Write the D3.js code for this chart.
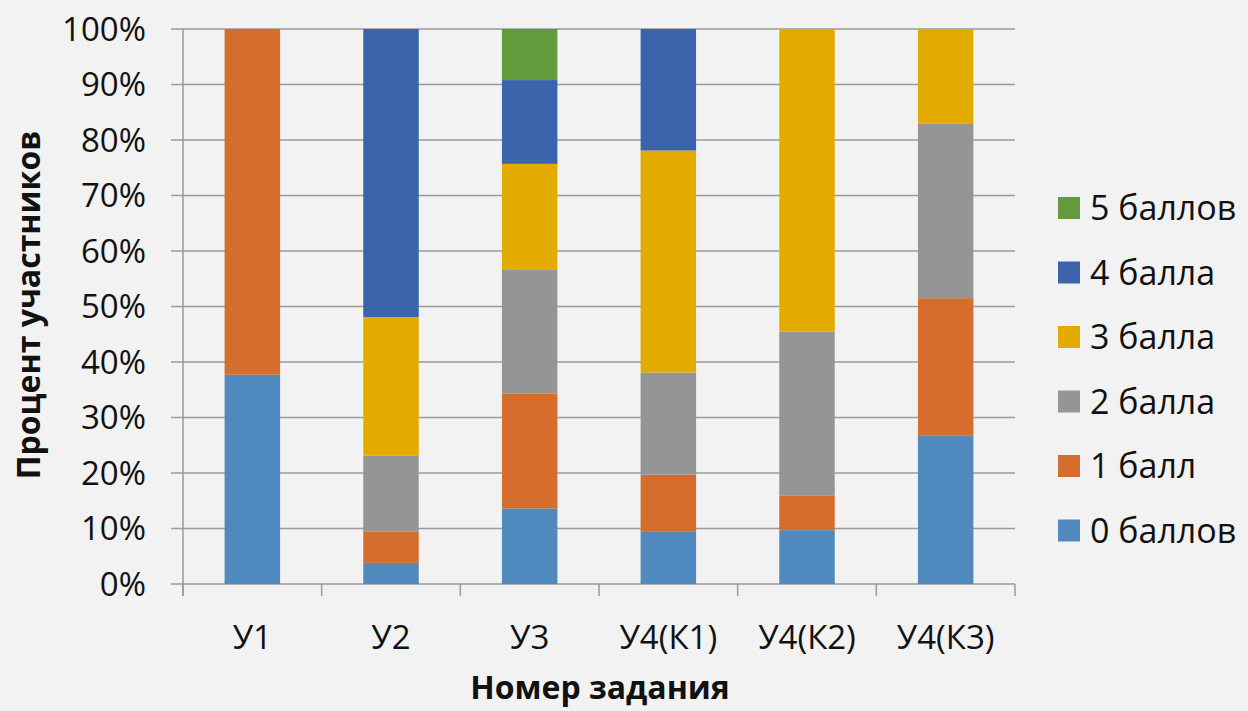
<!DOCTYPE html>
<html><head><meta charset="utf-8">
<script src="https://cdn.jsdelivr.net/npm/d3@7"></script>
<style>
html,body{margin:0;padding:0;background:#f2f2f2;}
svg{display:block;}
text{font-family:"Open Sans","Noto Sans",sans-serif;fill:#111;}
</style></head><body>
<svg id="c" width="1248" height="711"></svg>
<script>
const categories = ["У1","У2","У3","У4(К1)","У4(К2)","У4(К3)"];
const seriesNames = ["0 баллов","1 балл","2 балла","3 балла","4 балла","5 баллов"];
const s0 = [37.7, 3.8, 13.6, 9.4, 9.7, 26.7];
const s1 = [62.3, 5.6, 20.7, 10.3, 6.2, 24.8];
const s2 = [0, 13.7, 22.4, 18.4, 29.6, 31.4];
const s3 = [0, 25.0, 19.0, 40.0, 54.5, 17.1];
const s4 = [0, 51.9, 15.1, 21.9, 0, 0];
const s5 = [0, 0, 9.2, 0, 0, 0];
const yTicks = [0,10,20,30,40,50,60,70,80,90,100];
const colors = ["#4f89bd","#d56e2c","#959595","#e3ab00","#3c64ad","#649a3e"];

const seriesVals = [s0,s1,s2,s3,s4,s5];
const rows = categories.map((c,i)=>{const r={cat:c};seriesNames.forEach((n,k)=>r[n]=seriesVals[k][i]);return r;});
const stack = d3.stack().keys(seriesNames)(rows);

const svg = d3.select("#c");
const L=183, R=1015, T=29, B=584;
const x = d3.scaleBand().domain(categories).range([L,R]).paddingInner(0.6).paddingOuter(0.3);
const xb = d3.scaleBand().domain(categories).range([L,R]);
const y = d3.scaleLinear().domain([0,100]).range([B,T]);

// gridlines
svg.append("g").selectAll("line").data(yTicks).join("line")
  .attr("x1",L-12).attr("x2",R).attr("y1",d=>y(d)).attr("y2",d=>y(d))
  .attr("stroke","#9a9a9a").attr("stroke-width",1.5);

// y axis line
svg.append("line").attr("x1",L).attr("x2",L).attr("y1",T).attr("y2",B+12)
  .attr("stroke","#9a9a9a").attr("stroke-width",1.5);

// x ticks
const xt = categories.map(c=>xb(c)).concat([R]);
svg.append("g").selectAll("line").data(xt).join("line")
  .attr("x1",d=>d).attr("x2",d=>d).attr("y1",B).attr("y2",B+12)
  .attr("stroke","#9a9a9a").attr("stroke-width",1.5);

// bars
svg.append("g").selectAll("g").data(stack).join("g")
  .attr("fill",(d,i)=>colors[i])
  .selectAll("rect").data(d=>d).join("rect")
  .attr("x",d=>x(d.data.cat)).attr("width",x.bandwidth())
  .attr("y",d=>y(d[1])).attr("height",d=>Math.max(0,y(d[0])-y(d[1])));

// y tick labels
svg.append("g").selectAll("text").data(yTicks).join("text")
  .attr("x",146).attr("y",d=>y(d)).attr("dy","0.36em")
  .attr("text-anchor","end").attr("font-size",33)
  .text(d=>d+"%");

// x labels
svg.append("g").selectAll("text").data(categories).join("text")
  .attr("x",d=>xb(d)+xb.bandwidth()/2).attr("y",649)
  .attr("text-anchor","middle").attr("font-size",33)
  .text(d=>d);

// axis titles
svg.append("text").attr("x",600).attr("y",699).attr("text-anchor","middle")
  .attr("font-size",32).attr("font-weight","bold").text("Номер задания");
svg.append("text").attr("transform","translate(40,305) rotate(-90)")
  .attr("text-anchor","middle").attr("font-size",32).attr("font-weight","bold")
  .text("Процент участников");

// legend
const leg = svg.append("g").selectAll("g").data(seriesNames.slice().reverse()).join("g")
  .attr("transform",(d,i)=>`translate(1058,${208+i*64.5})`);
leg.append("rect").attr("x",0).attr("y",-11).attr("width",22).attr("height",22)
  .attr("fill",d=>colors[seriesNames.indexOf(d)]);
leg.append("text").attr("x",32).attr("y",0).attr("dy","0.36em").attr("font-size",34)
  .text(d=>d);
</script></body></html>
